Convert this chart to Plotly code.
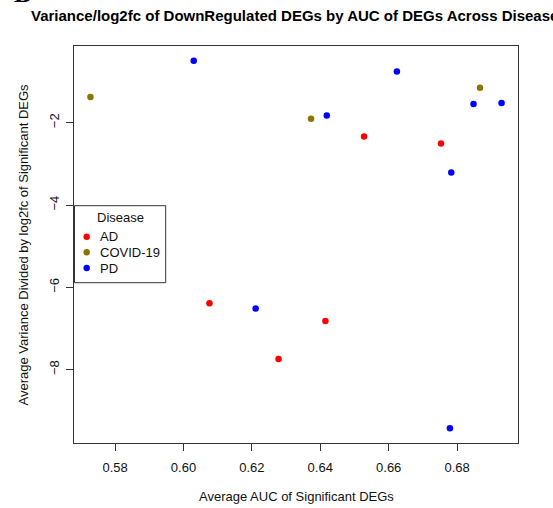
import plotly.graph_objects as go

# ---- data ----
ad_auc = [0.6528, 0.6753, 0.6076, 0.6278, 0.6415]
ad_var = [-2.333, -2.504, -6.387, -7.742, -6.818]
covid_auc = [0.5728, 0.6373, 0.6867]
covid_var = [-1.375, -1.903, -1.148]
pd_auc = [0.6030, 0.6419, 0.6624, 0.6783, 0.6848, 0.6930, 0.6211, 0.6779]
pd_var = [-0.492, -1.822, -0.752, -3.209, -1.545, -1.521, -6.518, -9.428]

diseases = ["AD", "COVID-19", "PD"]
colors = ["#FF0000", "#8B7500", "#0000FF"]
x_ticks = [0.58, 0.60, 0.62, 0.64, 0.66, 0.68]
y_ticks = [-2, -4, -6, -8]

W, H = 553, 508
L, R, T, B = 74, 35, 46, 65
PW, PH = W - L - R, H - T - B
FONT = "Liberation Sans, Arial, sans-serif"
AX = "#333333"


def px(xp):
    return (xp - L) / PW


def py(yp):
    return (H - B - yp) / PH


all_x = ad_auc + covid_auc + pd_auc
all_y = ad_var + covid_var + pd_var
xr = [min(all_x) - 0.04 * (max(all_x) - min(all_x)), max(all_x) + 0.04 * (max(all_x) - min(all_x))]
yr = [min(all_y) - 0.04 * (max(all_y) - min(all_y)), max(all_y) + 0.04 * (max(all_y) - min(all_y))]

fig = go.Figure()
for name, xs, ys, c in zip(diseases, [ad_auc, covid_auc, pd_auc], [ad_var, covid_var, pd_var], colors):
    fig.add_trace(go.Scatter(x=xs, y=ys, mode="markers", name=name,
                             marker=dict(color=c, size=6.5, line=dict(width=0)),
                             showlegend=False))

axis_common = dict(showline=True, linecolor=AX, linewidth=1, mirror=True,
                   ticks="outside", ticklen=7, tickcolor=AX, tickwidth=1,
                   showgrid=False, zeroline=False,
                   tickfont=dict(family=FONT, size=13, color="#111111"))

fig.update_xaxes(range=xr, tickvals=x_ticks, ticktext=[f"{v:.2f}" for v in x_ticks],
                 ticklabelstandoff=5, **axis_common)
fig.update_yaxes(range=yr, tickvals=y_ticks, ticktext=[str(v).replace("-", "\u2212") for v in y_ticks],
                 tickangle=-90, ticklabelstandoff=2, **axis_common)

ann = []
# title
ann.append(dict(text="<b>Variance/log2fc of DownRegulated DEGs by AUC of DEGs Across Disease</b>",
                xref="paper", yref="paper", x=px(29), y=py(15), xanchor="left", yanchor="middle",
                showarrow=False, font=dict(family=FONT, size=15, color="#000000")))
# panel letter (clipped at top)
ann.append(dict(text="<b>B</b>", xref="paper", yref="paper", x=px(12), y=py(-7),
                xanchor="left", yanchor="middle", showarrow=False,
                font=dict(family="Liberation Serif, serif", size=26, color="#000000")))
# axis titles
ann.append(dict(text="Average AUC of Significant DEGs", xref="paper", yref="paper",
                x=px((L + W - R) / 2), y=py(496), xanchor="center", yanchor="middle",
                showarrow=False, font=dict(family=FONT, size=13, color="#111111")))
ann.append(dict(text="Average Variance Divided by log2fc of Significant DEGs", xref="paper", yref="paper",
                x=px(23), y=py((T + H - B) / 2), xanchor="center", yanchor="middle", textangle=-90,
                showarrow=False, font=dict(family=FONT, size=13, color="#111111")))
# legend
ann.append(dict(text="Disease", xref="paper", yref="paper", x=px(120), y=py(217),
                xanchor="center", yanchor="middle", showarrow=False,
                font=dict(family=FONT, size=13, color="#111111")))
shapes = [dict(type="rect", xref="paper", yref="paper", x0=px(74.5), x1=px(165.7),
               y0=py(205.7), y1=py(282.7), line=dict(color=AX, width=1), fillcolor="white", layer="above")]
item_y = [236.7, 252.3, 268.0]
for name, c, yy in zip(diseases, colors, item_y):
    ann.append(dict(text=name, xref="paper", yref="paper", x=px(97.5), y=py(yy),
                    xanchor="left", yanchor="middle", showarrow=False,
                    font=dict(family=FONT, size=13, color="#111111")))
    shapes.append(dict(type="circle", xref="paper", yref="paper", xsizemode="pixel", ysizemode="pixel",
                       xanchor=px(86.7), yanchor=py(yy), x0=-3.2, x1=3.2, y0=-3.2, y1=3.2,
                       fillcolor=c, line=dict(width=0), layer="above"))

fig.update_layout(width=W, height=H, margin=dict(l=L, r=R, t=T, b=B),
                  paper_bgcolor="white", plot_bgcolor="white",
                  annotations=ann, shapes=shapes, showlegend=False)

fig.write_html("out.html")
